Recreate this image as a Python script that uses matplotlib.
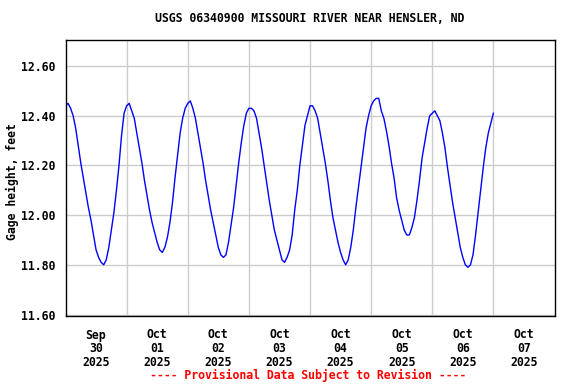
import pandas as pd
import matplotlib
matplotlib.use("Agg")
import matplotlib.pyplot as plt
import matplotlib.dates as mdates

# hourly gage height readings, Sep 30 00:00 .. Oct 07 00:00
gage_height = [
    12.44, 12.45, 12.43, 12.40, 12.35, 12.28, 12.21, 12.15, 12.09, 12.03, 11.98, 11.92,
    11.86, 11.83, 11.81, 11.80, 11.82, 11.87, 11.94, 12.01, 12.10, 12.20, 12.32, 12.41,
    12.44, 12.45, 12.42, 12.39, 12.33, 12.27, 12.21, 12.14, 12.08, 12.02, 11.97, 11.93,
    11.89, 11.86, 11.85, 11.87, 11.91, 11.97, 12.05, 12.15, 12.24, 12.33, 12.39, 12.43,
    12.45, 12.46, 12.43, 12.39, 12.33, 12.27, 12.21, 12.14, 12.08, 12.02, 11.97, 11.92,
    11.87, 11.84, 11.83, 11.84, 11.89, 11.96, 12.03, 12.12, 12.21, 12.29, 12.36, 12.41,
    12.43, 12.43, 12.42, 12.39, 12.33, 12.27, 12.20, 12.13, 12.06, 12.00, 11.94, 11.90,
    11.86, 11.82, 11.81, 11.83, 11.86, 11.92, 12.02, 12.10, 12.20, 12.28, 12.36, 12.40,
    12.44, 12.44, 12.42, 12.39, 12.33, 12.27, 12.21, 12.14, 12.06, 11.99, 11.94, 11.89,
    11.85, 11.82, 11.80, 11.82, 11.87, 11.94, 12.03, 12.11, 12.19, 12.27, 12.35, 12.40,
    12.44, 12.46, 12.47, 12.47, 12.42, 12.39, 12.34, 12.28, 12.21, 12.15, 12.07, 12.02,
    11.98, 11.94, 11.92, 11.92, 11.95, 11.99, 12.06, 12.14, 12.23, 12.29, 12.35, 12.40,
    12.41, 12.42, 12.40, 12.38, 12.33, 12.27, 12.19, 12.12, 12.05, 11.99, 11.93, 11.87,
    11.83, 11.80, 11.79, 11.80, 11.84, 11.92, 12.01, 12.10, 12.19, 12.27, 12.33, 12.37,
    12.41,
]
times = pd.date_range("2025-09-30 00:00", periods=len(gage_height), freq="h")

day_starts = pd.date_range("2025-09-30", "2025-10-08", freq="D")
day_labels = ["Sep\n30\n2025", "Oct\n01\n2025", "Oct\n02\n2025", "Oct\n03\n2025",
              "Oct\n04\n2025", "Oct\n05\n2025", "Oct\n06\n2025", "Oct\n07\n2025"]
y_ticks = [11.6, 11.8, 12.0, 12.2, 12.4, 12.6]

title = "USGS 06340900 MISSOURI RIVER NEAR HENSLER, ND"
ylabel = "Gage height, feet"
footer = "---- Provisional Data Subject to Revision ----"

plt.rcParams['font.family'] = 'DejaVu Sans Mono'
plt.rcParams['font.weight'] = 'bold'
fs = 8.3

fig = plt.figure(figsize=(5.76, 3.84), dpi=100)
ax = fig.add_axes([65.5 / 576, 1 - 316 / 384, 489 / 576, 276 / 384])

ax.plot(times, gage_height, color="#0000ff", lw=1.0)

ax.set_xlim(day_starts[0], day_starts[-1])
ax.set_ylim(11.594, 12.705)

# gridlines at midnight, day labels centred at noon
ax.set_xticks(mdates.date2num(day_starts[1:-1]), labels=[""] * (len(day_starts) - 2))
noon = day_starts[:-1] + pd.Timedelta(hours=12)
ax.set_xticks(mdates.date2num(noon), labels=day_labels, minor=True)
for lab in ax.xaxis.get_minorticklabels():
    lab.set_linespacing(1.1)

ax.set_yticks(y_ticks, labels=["%.2f" % v for v in y_ticks])

ax.tick_params(axis="both", which="both", length=0, labelsize=fs)
ax.tick_params(axis="x", which="minor", pad=9)
ax.tick_params(axis="y", pad=7)
ax.grid(True, which="major", color="#cccccc", lw=1.0)
ax.set_axisbelow(True)
for s in ax.spines.values():
    s.set_color("black")
    s.set_linewidth(1.0)

fig.text(310 / 576, 1 - 19 / 384, title, ha="center", va="center", fontsize=fs, fontweight="bold")
fig.text(12 / 576, 1 - 182 / 384, ylabel, ha="center", va="center", rotation=90,
         fontsize=fs, fontweight="bold")
fig.text(308 / 576, 1 - 375 / 384, footer, ha="center", va="center", fontsize=fs,
         fontweight="bold", color="#ff0000")

fig.savefig("out.png", dpi=100)
